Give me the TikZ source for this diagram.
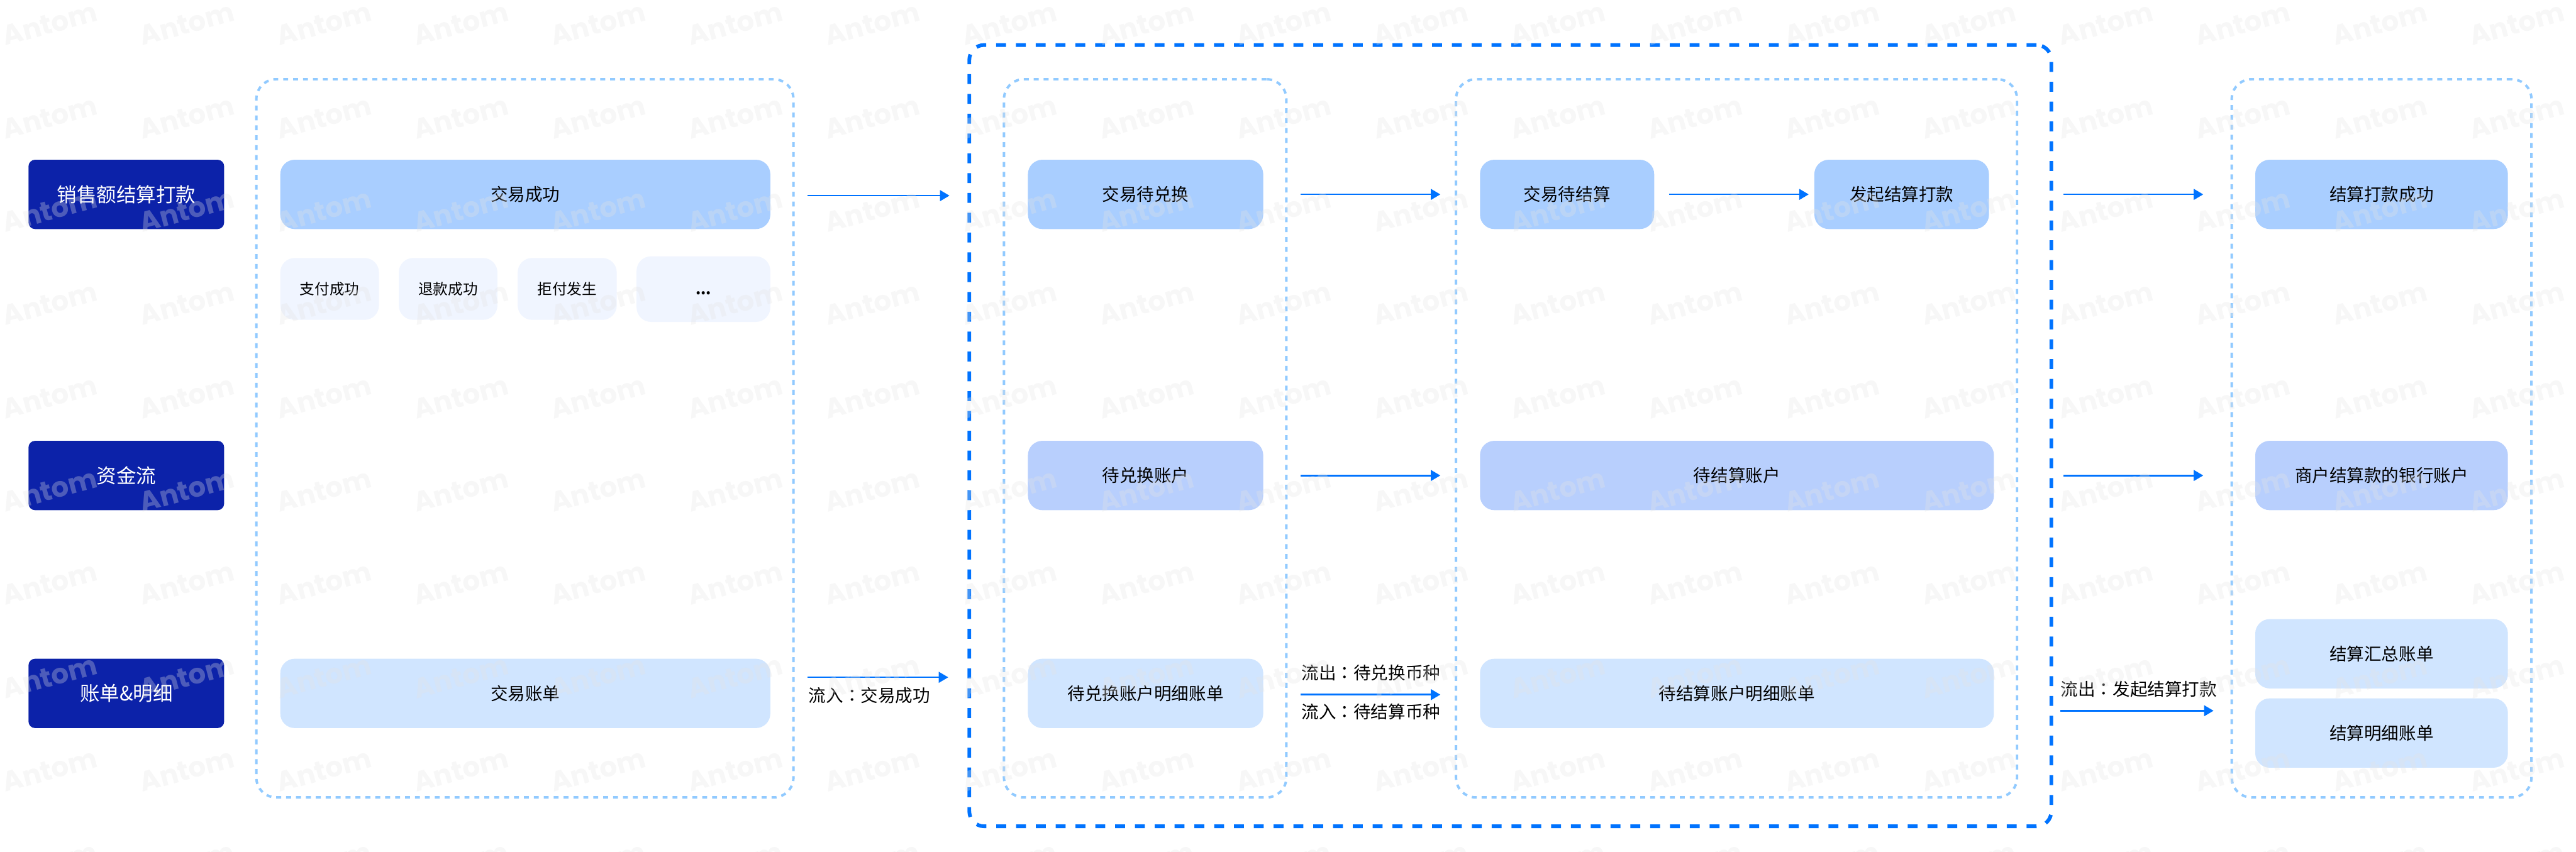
\documentclass[tikz,border=0pt]{standalone}
\usepackage{fontspec}
\setmainfont{Noto Sans CJK SC}
\newfontfamily\colonfont{Noto Sans CJK TC}
\newfontfamily\markfont{Poppins}
\usetikzlibrary{arrows.meta, positioning}
\definecolor{navyblue}{HTML}{0C22A9}
\definecolor{brightblue}{HTML}{0073FF}
\definecolor{dashblue}{HTML}{91CAFF}
\definecolor{stateblue}{HTML}{A9CEFF}
\definecolor{acctblue}{HTML}{B8CFFD}
\definecolor{billblue}{HTML}{D0E5FF}
\definecolor{eventblue}{HTML}{F0F5FF}
\definecolor{markgray}{HTML}{E4E4E4}
\newcommand{\cn}{{\colonfont：}}

\begin{document}
\begin{tikzpicture}[
    rowlabel/.style={rectangle, rounded corners=.16cm, fill=navyblue, text=white, inner sep=0pt,
        minimum width=4.74cm, minimum height=1.68cm, font=\fontsize{13.66}{16}\selectfont},
    flowbox/.style={rectangle, rounded corners=.35cm, inner sep=0pt, minimum height=1.68cm,
        font=\fontsize{11.95}{14}\selectfont},
    statebox/.style={flowbox, fill=stateblue},
    acctbox/.style={flowbox, fill=acctblue},
    billbox/.style={flowbox, fill=billblue},
    eventbox/.style={rectangle, rounded corners=.35cm, fill=eventblue, inner sep=0pt,
        minimum height=1.5cm, font=\fontsize{10.24}{12}\selectfont},
    groupbox/.style={rectangle, rounded corners=.48cm, draw=dashblue, line width=.06cm,
        dash pattern=on .12cm off .12cm, minimum height=17.4cm},
    scopebox/.style={rectangle, rounded corners=.36cm, draw=brightblue, line width=.09cm,
        dash pattern=on .24cm off .24cm, minimum width=26.21cm, minimum height=18.93cm},
    arrow/.style={-{Triangle[length=.23cm, width=.26cm]}, line width=.04cm, brightblue},
    flowtext/.style={inner sep=0pt, font=\fontsize{11.95}{14}\selectfont}
]
    \useasboundingbox (0,0) rectangle (62.4,-20.64);

    % dashed frames
    \node[scopebox] (settlescope) at (36.585,-10.555) {};
    \node[groupbox, minimum width=13.01cm] (tradegroup)    at (12.715,-10.62) {};
    \node[groupbox, minimum width=6.84cm]  (exchangegroup) at (27.74,-10.62) {};
    \node[groupbox, minimum width=13.59cm] (settlegroup)   at (42.065,-10.62) {};
    \node[groupbox, minimum width=7.26cm]  (payoutgroup)   at (57.69,-10.62) {};

    % row labels
    \node[rowlabel] (salesrow) at (3.06,-4.71)  {销售额结算打款};
    \node[rowlabel] (fundrow)  at (3.06,-11.52) {资金流};
    \node[rowlabel] (billrow)  at (3.06,-16.8)  {账单\&明细};

    % trade column
    \node[statebox, minimum width=11.87cm] (tradeok) at (12.725,-4.71) {交易成功};
    \node[eventbox, minimum width=2.39cm] (payok)    at (7.985,-7.0)  {支付成功};
    \node[eventbox, minimum width=2.39cm] (refundok) at (10.855,-7.0) {退款成功};
    \node[eventbox, minimum width=2.4cm]  (dispute)  at (13.74,-7.0)  {拒付发生};
    \node[eventbox, minimum width=3.24cm, minimum height=1.59cm, text height=.36cm, text depth=.09cm]
        (moreevents) at (17.04,-7.005) {\bfseries ...};
    \node[billbox, minimum width=11.87cm] (tradebill) at (12.725,-16.8) {交易账单};

    % exchange column
    \node[statebox, minimum width=5.7cm] (exchangewait) at (27.75,-4.71)  {交易待兑换};
    \node[acctbox, minimum width=5.7cm]  (exchangeacct) at (27.75,-11.52) {待兑换账户};
    \node[billbox, minimum width=5.7cm]  (exchangebill) at (27.75,-16.8)  {待兑换账户明细账单};

    % settlement column
    \node[statebox, minimum width=4.22cm] (settlewait) at (37.96,-4.71)  {交易待结算};
    \node[statebox, minimum width=4.23cm] (settlestart) at (46.065,-4.71) {发起结算打款};
    \node[acctbox, minimum width=12.45cm] (settleacct) at (42.075,-11.52) {待结算账户};
    \node[billbox, minimum width=12.45cm] (settlebill) at (42.075,-16.8)  {待结算账户明细账单};

    % payout column
    \node[statebox, minimum width=6.12cm] (payoutok)   at (57.69,-4.71)  {结算打款成功};
    \node[acctbox, minimum width=6.12cm]  (bankacct)   at (57.69,-11.52) {商户结算款的银行账户};
    \node[billbox, minimum width=6.12cm]  (sumbill)    at (57.69,-15.84) {结算汇总账单};
    \node[billbox, minimum width=6.12cm]  (detailbill) at (57.69,-17.76) {结算明细账单};

    % free arrow ends
    \coordinate (t1a) at (19.56,-4.74);  \coordinate (t1b) at (23.0,-4.74);
    \coordinate (t2a) at (31.51,-4.71);  \coordinate (t2b) at (34.89,-4.71);
    \coordinate (t3a) at (49.99,-4.71);  \coordinate (t3b) at (53.37,-4.71);
    \coordinate (f1a) at (31.51,-11.52); \coordinate (f1b) at (34.89,-11.52);
    \coordinate (f2a) at (49.99,-11.52); \coordinate (f2b) at (53.37,-11.52);
    \coordinate (b1a) at (19.56,-16.41); \coordinate (b1b) at (22.97,-16.41);
    \coordinate (b2a) at (31.51,-16.83); \coordinate (b2b) at (34.89,-16.83);
    \coordinate (b3a) at (49.9,-17.22);  \coordinate (b3b) at (53.62,-17.22);

    \draw[arrow] (t1a) -- (t1b);
    \draw[arrow] (t2a) -- (t2b);
    \draw[arrow, shorten <=.35cm, shorten >=.13cm] (settlewait) -- (settlestart);
    \draw[arrow] (t3a) -- (t3b);
    \draw[arrow] (f1a) -- (f1b);
    \draw[arrow] (f2a) -- (f2b);
    \draw[arrow] (b1a) -- (b1b);
    \draw[arrow] (b2a) -- (b2b);
    \draw[arrow] (b3a) -- (b3b);

    \node[flowtext] (inlabel)    at (21.06,-16.85) {流入\cn 交易成功};
    \node[flowtext] (outfx)      at (33.21,-16.3)  {流出\cn 待兑换币种};
    \node[flowtext] (infx)       at (33.21,-17.24) {流入\cn 待结算币种};
    \node[flowtext] (outsettle)  at (51.81,-16.7)  {流出\cn 发起结算打款};

    % faint marks over everything
    \foreach \i in {-1,...,18}
        \foreach \j in {0,...,9}
            \node[rotate=15, inner sep=0pt, text=markgray, text opacity=.3,
                font=\markfont\bfseries\fontsize{19}{24}\selectfont] (mark\i-\j)
                at ({1.21+3.32*\i},{-.58-2.26*\j}) {Antom};
\end{tikzpicture}
\end{document}
